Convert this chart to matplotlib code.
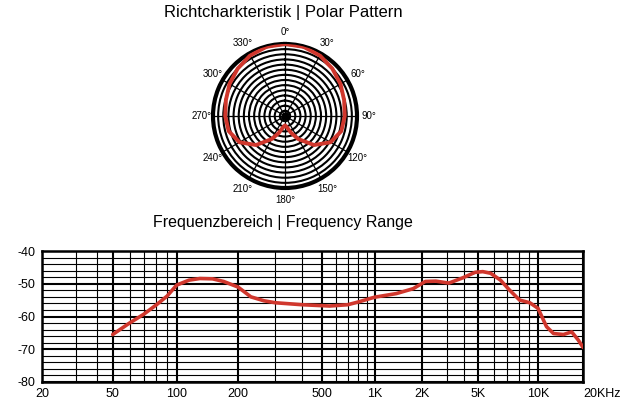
import numpy as np
import matplotlib
matplotlib.use("Agg")
import matplotlib.pyplot as plt
from matplotlib.ticker import FixedLocator, NullFormatter

# ---------------- data ----------------
# polar pattern (relative level, 1 = outer ring)
polar_angle_deg = [0, 15, 30, 45, 60, 75, 90, 105, 120, 135, 150, 160, 170, 180,
                   190, 200, 210, 225, 240, 255, 270, 285, 300, 315, 330, 345, 360]
polar_level = [1.0, 0.995, 0.97, 0.93, 0.89, 0.85, 0.83, 0.81, 0.73, 0.57, 0.37, 0.25, 0.16, 0.13,
               0.16, 0.25, 0.37, 0.57, 0.73, 0.81, 0.83, 0.85, 0.89, 0.93, 0.97, 0.995, 1.0]
polar_tick_deg = [0, 30, 60, 90, 120, 150, 180, 210, 240, 270, 300, 330]
polar_tick_labels = ["0°", "30°", "60°", "90°", "120°", "150°", "180°",
                     "210°", "240°", "270°", "300°", "330°"]

# frequency response
freq_hz = [50, 60, 70, 80, 90, 100, 115, 130, 150, 170, 200, 230, 265, 300, 400, 550,
           700, 800, 1000, 1370, 1750, 2100, 2500, 3100, 3900, 4800, 5300, 5800, 6500,
           7200, 8100, 9100, 10000, 11400, 12700, 14800, 16800, 18600, 20000]
level_db = [-65.5, -62.0, -59.3, -56.5, -53.8, -50.4, -48.9, -48.4, -48.5, -49.3, -51.0,
            -54.0, -55.2, -55.8, -56.4, -56.8, -56.4, -55.6, -54.1, -53.0, -51.5, -49.3,
            -49.2, -49.8, -48.2, -46.5, -46.3, -46.8, -48.9, -51.9, -55.0, -55.8, -57.5,
            -63.1, -65.2, -65.5, -64.7, -67.2, -69.4]
x_major = [20, 50, 100, 200, 500, 1000, 2000, 5000, 10000, 20000]
x_labels = ["20", "50", "100", "200", "500", "1K", "2K", "5K", "10K", "20KHz"]
x_minor = [30, 40, 60, 70, 80, 90, 300, 400, 600, 700, 800, 900,
           3000, 4000, 6000, 7000, 8000, 9000]
y_major = [-40, -50, -60, -70, -80]
y_labels = ["-40", "-50", "-60", "-70", "-80"]

RED = "#d0372d"
TITLE_FONT = ["Liberation Sans Narrow", "Liberation Sans", "DejaVu Sans"]
TICK_FONT = ["Liberation Sans", "DejaVu Sans"]

fig = plt.figure(figsize=(6.4, 4.0), dpi=100)
fig.patch.set_facecolor("white")

# ---------------- titles ----------------
fig.text(283 / 640, 1 - 13 / 400, "Richtcharkteristik | Polar Pattern",
         ha="center", va="center", fontsize=12, family=TITLE_FONT)
fig.text(283 / 640, 1 - 222 / 400, "Frequenzbereich | Frequency Range",
         ha="center", va="center", fontsize=11.5, family=TITLE_FONT)

# ---------------- polar plot ----------------
axp = fig.add_axes([213 / 640, 1 - 188 / 400, 144 / 640, 144 / 400], projection="polar")
axp.set_theta_zero_location("N")
axp.set_theta_direction(-1)
axp.set_ylim(0, 1.0)
axp.set_rticks(list(np.arange(1, 14) / 14.0))
axp.set_yticklabels([])
axp.set_thetagrids(polar_tick_deg, labels=polar_tick_labels)
axp.tick_params(axis="x", pad=-2, labelsize=7)
for lab in axp.get_xticklabels():
    lab.set_family(TICK_FONT)
axp.yaxis.grid(True, color="black", lw=1.5)
axp.xaxis.grid(True, color="black", lw=0.9)
axp.spines["polar"].set_linewidth(3.0)
axp.spines["polar"].set_color("black")
axp.plot(np.deg2rad(polar_angle_deg), polar_level, color=RED, lw=2.8, zorder=5)
axp.plot([0], [0], marker="o", color="black", ms=5, zorder=4)

# ---------------- frequency response ----------------
anchor_f = np.log10([20, 30, 50, 100, 200, 500, 1000, 2000, 5000, 10000, 20000])
anchor_p = np.array([42.3, 76.5, 113, 177, 238.3, 322.7, 375, 422.7, 478, 538.3, 583.3])


def fwd(x):
    x = np.asarray(x, dtype=float)
    lx = np.log10(np.clip(x, 1e-6, None))
    return np.interp(lx, anchor_f, anchor_p)


def inv(p):
    p = np.asarray(p, dtype=float)
    return 10 ** np.interp(p, anchor_p, anchor_f)


axf = fig.add_axes([42 / 640, 18 / 400, 541 / 640, 131 / 400])
axf.set_xscale("function", functions=(fwd, inv))
axf.set_xlim(20, 20000)
axf.set_ylim(-80, -40)
axf.xaxis.set_major_locator(FixedLocator(x_major))
axf.xaxis.set_minor_locator(FixedLocator(x_minor))
axf.xaxis.set_minor_formatter(NullFormatter())
axf.set_xticks(x_major)
axf.set_xticklabels(x_labels)
axf.yaxis.set_major_locator(FixedLocator(y_major))
axf.yaxis.set_minor_locator(FixedLocator(list(range(-78, -40, 2))))
axf.set_yticks(y_major)
axf.set_yticklabels(y_labels)
axf.tick_params(which="both", length=0)
axf.tick_params(axis="x", pad=4, labelsize=9)
axf.tick_params(axis="y", pad=5, labelsize=9)
for lab in axf.get_xticklabels() + axf.get_yticklabels():
    lab.set_family(TICK_FONT)
axf.get_xticklabels()[-1].set_horizontalalignment("left")
axf.grid(which="major", color="black", lw=1.5)
axf.grid(which="minor", color="black", lw=0.8)
for sp in axf.spines.values():
    sp.set_linewidth(1.8)
    sp.set_color("black")
axf.set_axisbelow(True)
axf.plot(freq_hz, level_db, color=RED, lw=2.6, solid_capstyle="round",
         solid_joinstyle="round", zorder=5)

fig.savefig("out.png", dpi=100, facecolor="white")
